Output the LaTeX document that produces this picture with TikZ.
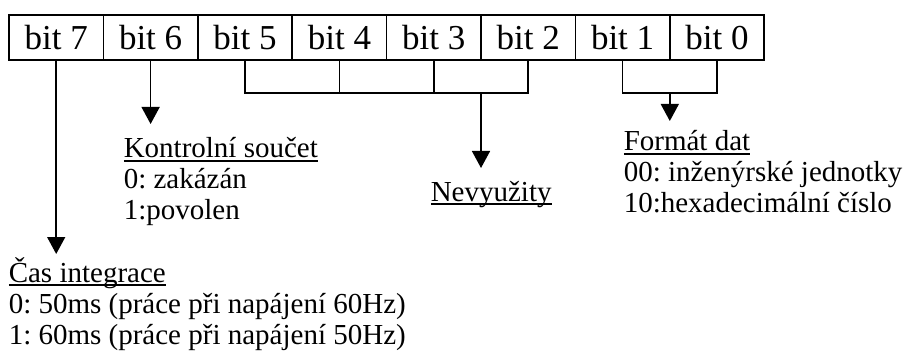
\documentclass[tikz,border=0pt]{standalone}
\usepackage{fontspec}
\setmainfont{Liberation Serif}
\usetikzlibrary{positioning,arrows.meta}
\frenchspacing
\newcommand{\podtrh}[1]{\setbox0\hbox{#1}\rlap{\rule[-1.9pt]{\wd0}{0.7pt}}\box0}

\begin{document}
\begin{tikzpicture}[x=0.5pt,y=-0.5pt,
        every path/.style={line width=0.75pt},
        bitbox/.style={draw,minimum width=47.2pt,minimum height=22.5pt,inner sep=0pt,outer sep=0pt,font=\fontsize{17.5}{20}\selectfont},
        popis/.style={anchor=base west,inner sep=0pt,align=left,font=\fontsize{14.5}{15.5}\selectfont},
        sipka/.style={-{Triangle[length=8.5pt,width=9pt]}}
    ]
        \useasboundingbox (0,0) rectangle (903,352);
        \node [bitbox] (b7) at (56.2,37.5) {bit 7};
        \node [bitbox,right=0pt of b7] (b6) {bit 6};
        \node [bitbox,right=0pt of b6] (b5) {bit 5};
        \node [bitbox,right=0pt of b5] (b4) {bit 4};
        \node [bitbox,right=0pt of b4] (b3) {bit 3};
        \node [bitbox,right=0pt of b3] (b2) {bit 2};
        \node [bitbox,right=0pt of b2] (b1) {bit 1};
        \node [bitbox,right=0pt of b1] (b0) {bit 0};

        % base = last line
        \node [popis] (kontrola) at (123,220) {\podtrh{Kontrolní součet}\\0: zakázán\\1:povolen};
        \node [popis] (nevyuzity) at (430,201) {\podtrh{Nevyužity}};
        \node [popis] (format) at (623,213) {\podtrh{Formát dat}\\00: inženýrské jednotky\\10:hexadecimální číslo};
        \node [popis] (cas) at (8,344) {\podtrh{Čas integrace}\\0: 50ms (práce při napájení 60Hz)\\1: 60ms (práce při napájení 50Hz)};

        \coordinate (t7) at (0,254);
        \coordinate (t6) at (0,124);
        \coordinate (tn) at (0,168);
        \coordinate (tf) at (0,121);

        \draw [sipka] (b7.south) -- (b7.south |- t7);
        \draw [sipka] (b6.south) -- (b6.south |- t6);
        \draw (b5.south) -- ++(0,33) coordinate (z5) -| (b2.south);
        \draw (b4.south) -- ++(0,33);
        \draw (b3.south) -- ++(0,33);
        \draw [sipka] (z5 -| b3.south east) -- (b3.south east |- tn);
        \draw (b1.south) -- ++(0,33) coordinate (z1) -| (b0.south);
        \draw [sipka] (z1 -| b1.south east) -- (b1.south east |- tf);
    \end{tikzpicture}
\end{document}
